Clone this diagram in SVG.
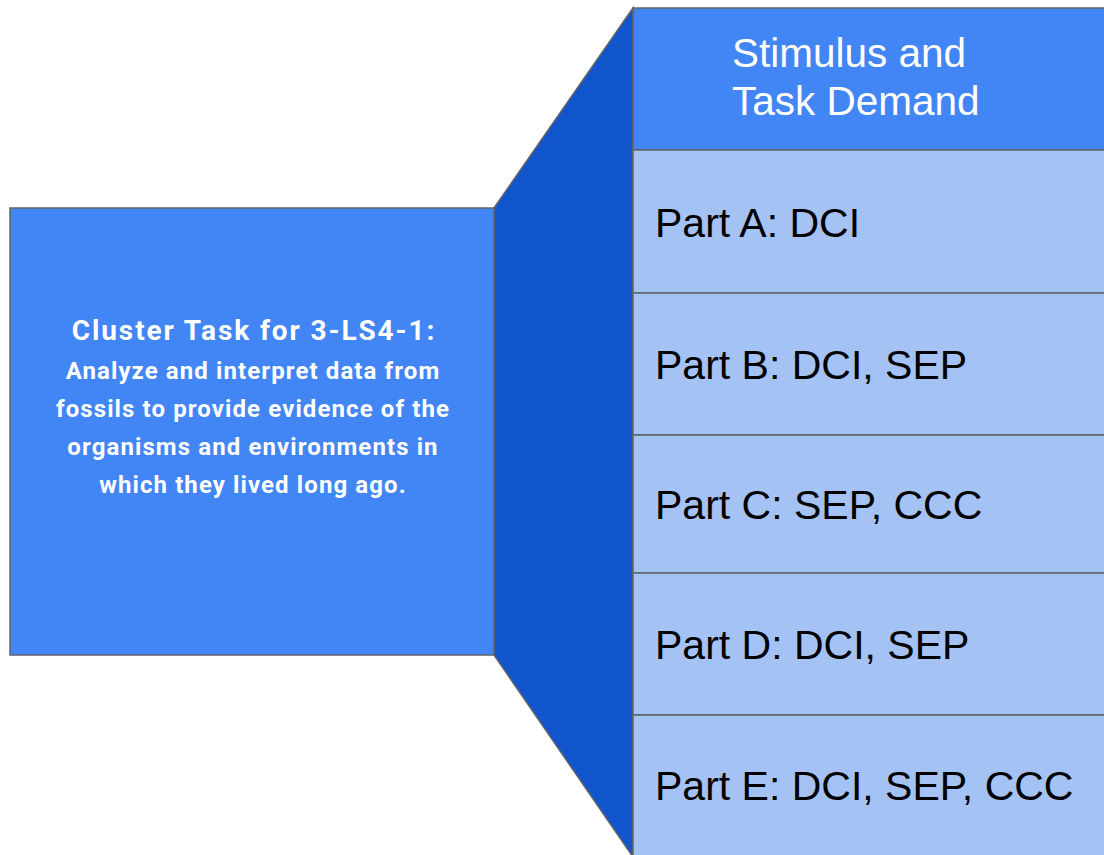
<svg xmlns="http://www.w3.org/2000/svg" width="1104" height="855" viewBox="0 0 1104 855">
<style>
.edge{stroke:#5f6368;stroke-width:1.5}
.dark{fill:#1155cc}
.blue{fill:#4285f4}
.light{fill:#a4c2f4}
.hdr{font-family:"Liberation Sans",Arial,sans-serif;font-size:40.5px;fill:#ffffff}
.part{font-family:"Liberation Sans",Arial,sans-serif;font-size:41px;fill:#000000}
.title{font-family:Roboto,"Liberation Sans",sans-serif;font-weight:bold;font-size:28px;letter-spacing:1.9px;fill:#ffffff;text-anchor:middle}
.body{font-family:Roboto,"Liberation Sans",sans-serif;font-weight:bold;font-size:24px;letter-spacing:1.1px;fill:#ffffff;text-anchor:middle}
</style>
<rect width="1104" height="855" fill="#ffffff"/>
<g id="connectors">
<polygon class="dark edge" points="494,208 633,8 633,857 494,655"/>
</g>
<g id="cluster-task">
<rect class="blue edge" x="10" y="208" width="484" height="447"/>
<text class="title" x="254" y="340">Cluster Task for 3-LS4-1:</text>
<text class="body" x="253" y="379">Analyze and interpret data from</text>
<text class="body" x="253" y="417">fossils to provide evidence of the</text>
<text class="body" x="253" y="455">organisms and environments in</text>
<text class="body" x="253" y="493">which they lived long ago.</text>
</g>
<g id="header">
<rect class="blue edge" x="633" y="8" width="480" height="142"/>
<text class="hdr" x="732" y="67">Stimulus and</text>
<text class="hdr" x="732" y="115">Task Demand</text>
</g>
<g id="part-a">
<rect class="light edge" x="633" y="150" width="480" height="143"/>
<text class="part" x="655" y="237">Part A: DCI</text>
</g>
<g id="part-b">
<rect class="light edge" x="633" y="293" width="480" height="142"/>
<text class="part" x="655" y="379">Part B: DCI, SEP</text>
</g>
<g id="part-c">
<rect class="light edge" x="633" y="435" width="480" height="138"/>
<text class="part" x="655" y="519">Part C: SEP, CCC</text>
</g>
<g id="part-d">
<rect class="light edge" x="633" y="573" width="480" height="142"/>
<text class="part" x="655" y="659">Part D: DCI, SEP</text>
</g>
<g id="part-e">
<rect class="light edge" x="633" y="715" width="480" height="145"/>
<text class="part" x="655" y="800">Part E: DCI, SEP, CCC</text>
</g>
</svg>
